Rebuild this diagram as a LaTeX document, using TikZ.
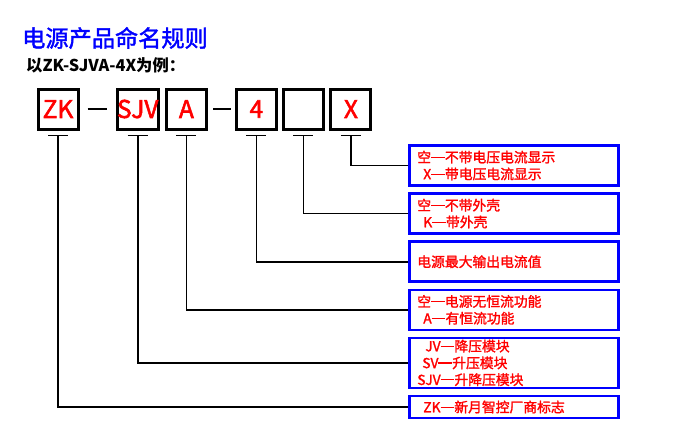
\documentclass[tikz,border=0pt]{standalone}
\usepackage{fontspec}
\setmainfont{Noto Sans CJK SC}
\newfontfamily\cnsemi{Noto Sans CJK SC}[FakeBold=1.6]
\newfontfamily\cnheavy{Noto Sans CJK SC}[FakeBold=2.2]
\newcommand{\cnDash}{\rule[0.33em]{1em}{0.08em}}
\usetikzlibrary{positioning,calc}

\begin{document}
\begin{tikzpicture}[
    x=1pt, y=-1pt,
    node distance=5.5pt,
    part_block/.style={rectangle, draw=black, line width=3pt, minimum width=40pt, minimum height=40pt, inner sep=0pt, text=red, font=\fontsize{24.5}{24.5}\cnheavy},
    desc_block/.style={rectangle, draw=blue, line width=2.6pt, text width=193pt, inner xsep=8pt, inner ysep=0pt, minimum height=40pt, align=left, text=red, font=\fontsize{13.8}{16.8}\cnsemi},
    line/.style={draw, line width=1.7pt},
    tick_line/.style={draw, line width=1.8pt}
]
\useasboundingbox (0,0) rectangle (700,440);

% Title
\node[anchor=west, inner sep=0pt, text=blue, font=\fontsize{23.2}{23.2}\cnsemi] (title) at (22,38) {电源产品命名规则};
\node[anchor=west, inner sep=0pt, font=\fontsize{16.3}{16.3}\bfseries] (example) at (26,65) {以ZK-SJVA-4X为例：};

% Part boxes
\node[part_block] (zk) at (58,109) {ZK};
\node[part_block, right=36pt of zk] (sjv) {SJV};
\node[part_block, right=5pt of sjv] (a) {A};
\node[part_block, right=27pt of a] (four) {4};
\node[part_block, right=4pt of four] (blank) {};
\node[part_block, right=4.5pt of blank] (x) {X};

% Description boxes
\node[desc_block, anchor=west] (dx) at (408,165.5) {空\cnDash 不带电压电流显示\\\hspace*{6pt}X\cnDash 带电压电流显示};
\node[desc_block, below=of dx] (dblank) {空\cnDash 不带外壳\\\hspace*{6pt}K\cnDash 带外壳};
\node[desc_block, below=of dblank] (dfour) {电源最大输出电流值};
\node[desc_block, below=of dfour] (da) {空\cnDash 电源无恒流功能\\\hspace*{6pt}A\cnDash 有恒流功能};
\node[desc_block, below=of da, minimum height=50pt] (dsjv) {\hspace*{8pt}JV\cnDash 降压模块\\\hspace*{5pt}SV\cnDash 升压模块\\SJV\cnDash 升降压模块};
\node[desc_block, below=of dsjv, minimum height=22pt] (dzk) {\hspace*{6pt}ZK\cnDash 新月智控厂商标志};

% Connections
\path[tick_line, shorten <=8pt, shorten >=9pt] (zk) -- (sjv);
\path[tick_line, shorten <=5.5pt, shorten >=3.5pt] (a) -- (four);
\foreach \p/\d in {zk/dzk, sjv/dsjv, a/da, four/dfour, blank/dblank, x/dx} {
  \coordinate (\p-t) at ($(\p.south)+(0,5)$);
  \path[tick_line] ($(\p-t)+(-10,0)$) -- ($(\p-t)+(10,0)$);
  \path[line] (\p-t) |- (\d.west);
}

\end{tikzpicture}
\end{document}
